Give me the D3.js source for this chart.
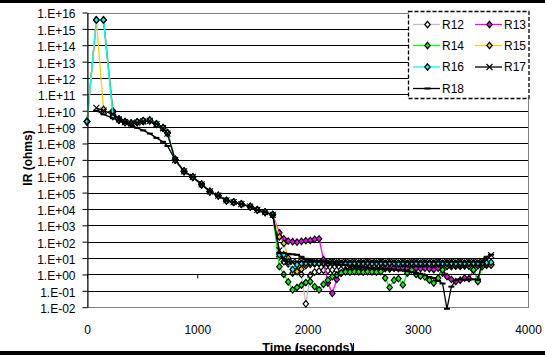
<!DOCTYPE html>
<html><head><meta charset="utf-8">
<script src="https://cdn.jsdelivr.net/npm/d3@7"></script>
<style>body{margin:0;background:#fff}svg{display:block}text{font-family:"Liberation Sans",Arial,sans-serif}</style>
</head><body><svg id="c" width="545" height="356"></svg>
<script>
// ---- data ----
const times = [0,85,150,235,290,345,400,455,510,570,630,690,730,800,880,960,1040,1115,1190,1265,1330,1400,1480,1545,1615,1685,
  1745,1785,1825,1865,1905,1945,1985,2025,2065,2105,
  2145,2185,2225,2265,2305,2345,2385,2425,2465,2505,
  2545,2585,2625,2665,2705,2745,2785,2825,2865,2905,
  2945,2985,3025,3065,3105,3145,3185,3225,3265,3305,
  3345,3385,3425,3465,3505,3545,3585,3625,3665];

const R12 = [2.2e9,3.5e15,3.5e15,1.0e10,3.0e9,2.1e9,1.7e9,2.0e9,2.3e9,2.5e9,1.6e9,9.0e8,4.5e8,1.1e7,2.1e6,9.0e5,3.3e5,1.2e5,6.8e4,3.3e4,2.7e4,2.0e4,1.45e4,9.0e3,6.5e3,4.5e3,
  12,6,4.5,3.5,2.5,1.0,0.016,0.9,1.4,1.6,
  1.8,1.7,1.9,1.8,2.0,1.9,2.1,2.0,1.9,2.1,
  2.0,2.2,2.0,2.1,2.3,2.2,2.4,2.3,2.5,2.4,
  2.6,2.5,2.7,2.6,2.8,2.7,3.0,2.9,3.1,3.0,
  3.2,3.1,3.3,3.2,3.4,3.3,3.5,3.6,3.8];
const R13 = [2.3e9,3.5e15,3.5e15,9.0e9,2.9e9,1.9e9,1.8e9,2.1e9,2.5e9,2.7e9,1.5e9,8.5e8,4.2e8,9.5e6,2.0e6,8.5e5,3.0e5,1.1e5,6.4e4,3.1e4,2.5e4,1.9e4,1.35e4,8.5e3,6.2e3,4.4e3,
  350,150,110,100,95,105,115,120,140,150,
  8,0.3,0.07,0.5,1.2,1.6,1.8,2.0,1.9,2.1,
  2.2,2.0,2.3,2.2,2.4,2.3,2.5,2.4,2.5,2.4,
  2.5,2.4,2.3,2.4,2.2,2.0,2.4,1.2,0.74,0.5,
  0.37,0.45,0.6,0.55,1.9,0.5,4.0,4.5,4.0];
const R14 = [2.1e9,3.4e15,3.4e15,8.0e9,2.6e9,2.0e9,1.6e9,1.9e9,2.4e9,2.6e9,1.45e9,8.8e8,4.4e8,1.0e7,1.9e6,9.2e5,3.2e5,1.15e5,6.6e4,3.2e4,2.6e4,2.1e4,1.4e4,8.8e3,6.4e3,4.3e3,
  3.0,1.0,0.35,0.115,0.16,0.22,0.32,0.37,0.18,0.115,
  0.25,0.45,0.74,0.93,1.2,1.45,1.4,1.5,1.45,1.4,
  1.5,1.45,1.4,1.5,0.6,0.16,0.45,0.55,0.23,1.2,
  1.9,1.0,0.8,0.7,0.45,0.3,0.6,1.9,3.2,3.4,
  3.3,3.5,3.4,3.3,1.9,0.37,3.0,4.0,4.2];
const R15 = [2.2e9,3.5e15,1.2e10,5.5e9,3.2e9,2.2e9,1.7e9,2.0e9,2.2e9,2.5e9,1.6e9,9.5e8,4.6e8,1.05e7,2.0e6,8.8e5,3.1e5,1.2e5,6.5e4,3.2e4,2.6e4,2.0e4,1.4e4,8.6e3,6.3e3,4.5e3,
  200,80,10,1.2,1.5,2.1,3.5,4.2,4.4,4.6,
  4.5,4.3,4.6,4.4,4.5,4.7,4.4,4.5,4.3,4.6,
  4.5,4.4,4.6,4.5,4.3,4.5,4.6,4.4,4.5,4.3,
  4.6,4.5,4.4,4.5,4.6,4.3,4.5,4.4,4.6,4.5,
  4.3,4.5,4.4,4.6,4.5,4.3,4.4,4.2,3.8];
const R16 = [2.2e9,3.5e15,3.5e15,4.4e9,2.8e9,1.9e9,1.65e9,2.0e9,2.4e9,2.6e9,1.5e9,9.0e8,4.3e8,1.0e7,2.0e6,8.9e5,3.2e5,1.15e5,6.6e4,3.2e4,2.6e4,2.0e4,1.4e4,8.7e3,6.3e3,4.4e3,
  16,16,6,2.0,4.0,4.8,5.0,5.3,5.1,4.9,
  5.2,5.0,5.3,5.1,4.9,5.2,5.0,5.3,5.1,5.0,
  5.2,4.9,5.1,5.3,5.0,5.2,5.1,4.9,5.2,5.0,
  5.3,5.1,5.0,5.2,4.9,5.1,5.3,5.0,5.2,5.1,
  4.9,5.2,5.0,5.3,5.1,5.0,5.2,5.4,5.5];
const R17 = [null,1.5e10,1.0e10,6.0e9,3.0e9,2.0e9,1.7e9,1.9e9,2.2e9,2.4e9,1.5e9,8.5e8,4.0e8,1.0e7,2.0e6,9.0e5,3.2e5,1.2e5,6.6e4,3.3e4,2.6e4,2.0e4,1.4e4,8.8e3,6.4e3,4.4e3,
  30,7,6.0,6.3,6.0,6.5,6.2,5.9,6.3,6.1,
  5.8,6.2,6.4,6.0,5.9,6.3,6.1,6.2,5.8,6.0,
  6.4,6.1,5.9,6.2,6.0,6.3,5.9,6.1,6.2,5.8,
  6.0,6.3,6.1,5.9,6.2,6.0,6.4,6.1,5.9,6.2,
  6.0,6.3,6.1,5.8,6.2,6.0,6.5,7.5,15];
const R18 = [null,1.0e10,6.0e9,3.5e9,2.5e9,1.8e9,1.26e9,9.0e8,6.3e8,4.0e8,2.2e8,1.26e8,7.0e7,1.0e7,2.0e6,8.8e5,3.1e5,1.15e5,6.5e4,3.2e4,2.6e4,2.0e4,1.4e4,8.7e3,6.3e3,4.4e3,
  20,20,18,17,16,12,9,7.5,6.5,6,
  5.5,5.0,4.6,4.3,4.0,3.7,3.4,3.2,3.0,2.8,
  2.6,2.4,2.3,2.2,2.15,2.1,2.05,1.9,1.75,1.6,
  1.4,1.25,1.1,0.9,0.7,0.6,0.4,0.28,0.008,0.18,
  0.45,0.5,0.48,0.5,0.5,0.47,6,12,16];

const seriesNames = ["R12","R13","R14","R15","R16","R17","R18"];
const seriesValues = [R12,R13,R14,R15,R16,R17,R18];
const xTicks = [0,1000,2000,3000,4000];
const yTickValues = [1e-2,1e-1,1e0,1e1,1e2,1e3,1e4,1e5,1e6,1e7,1e8,1e9,1e10,1e11,1e12,1e13,1e14,1e15,1e16];
const yTickLabels = ["1.E-02","1.E-01","1.E+00","1.E+01","1.E+02","1.E+03","1.E+04","1.E+05","1.E+06","1.E+07","1.E+08","1.E+09","1.E+10","1.E+11","1.E+12","1.E+13","1.E+14","1.E+15","1.E+16"];

// ---- styles ----
const styles = {
  R12:{color:"#c0c0c0", marker:"diamond", fill:"#ffffff"},
  R13:{color:"#ff00ff", marker:"diamond", fill:"#ff00ff"},
  R14:{color:"#00ff00", marker:"diamond", fill:"#00ff00"},
  R15:{color:"#ffcc00", marker:"diamond", fill:"#ffcc00"},
  R16:{color:"#00ffff", marker:"diamond", fill:"#00ffff"},
  R17:{color:"#000000", marker:"x"},
  R18:{color:"#000000", marker:"dash"}
};

const svg = d3.select("#c");
svg.append("rect").attr("width",545).attr("height",356).attr("fill","#fff");

const L=87, R=528, T=12.5, B=307.2;
const x = d3.scaleLinear().domain([0,4000]).range([L,R]);
const y = d3.scaleLog().domain([1e-2,1e16]).range([B,T]);

// gridlines
svg.append("g").selectAll("line").data(yTickValues.filter(v=>v>1e-2 && v<1e16)).join("line")
  .attr("x1",L).attr("x2",R).attr("y1",d=>Math.round(y(d))+0.5).attr("y2",d=>Math.round(y(d))+0.5)
  .attr("stroke","#000").attr("stroke-width",1);
// plot border
svg.append("rect").attr("x",L+0.5).attr("y",Math.round(T)+0.5).attr("width",R-L).attr("height",Math.round(B)-Math.round(T))
  .attr("fill","none").attr("stroke","#808080").attr("stroke-width",1);

function drawMarker(g, kind, st, cx, cy){
  if(kind==="diamond"){
    g.append("path").attr("d",`M${cx},${cy-3.2}L${cx+2.7},${cy}L${cx},${cy+3.2}L${cx-2.7},${cy}Z`)
      .attr("fill",st.fill).attr("stroke","#000").attr("stroke-width",1.2);
  } else if(kind==="x"){
    g.append("path").attr("d",`M${cx-3},${cy-3}L${cx+3},${cy+3}M${cx-3},${cy+3}L${cx+3},${cy-3}`)
      .attr("stroke","#000").attr("stroke-width",1.1).attr("fill","none");
  } else {
    g.append("path").attr("d",`M${cx-3},${cy}L${cx+3},${cy}`)
      .attr("stroke","#000").attr("stroke-width",2).attr("fill","none");
  }
}

// series
const line = d3.line().defined(d=>d[1]!=null).x(d=>x(d[0])).y(d=>y(d[1]));
seriesNames.forEach((name,i)=>{
  const st = styles[name];
  const pts = times.map((t,j)=>[t, seriesValues[i][j]]);
  const g = svg.append("g");
  g.append("path").attr("d",line(pts)).attr("fill","none").attr("stroke",st.color).attr("stroke-width",1.3);
  pts.filter(p=>p[1]!=null).forEach(p=>drawMarker(g, st.marker, st, x(p[0]), y(p[1])));
});

// y axis
const yAxis = d3.axisLeft(y).tickValues(yTickValues).tickFormat((d,i)=>yTickLabels[i]).tickSize(5).tickPadding(7).tickSizeOuter(0);
const gy = svg.append("g").attr("transform",`translate(${L+0.5},0)`).call(yAxis);
gy.select(".domain").attr("stroke","#000");
gy.selectAll(".tick line").attr("stroke","#000");
gy.selectAll("text").attr("font-size",12).attr("dy","0.45em").attr("fill","#000").style("font-family","'Liberation Sans',Arial,sans-serif");

// x axis at y = 1
const xAxis = d3.axisBottom(x).tickValues(xTicks).tickFormat("").tickSize(4).tickSizeOuter(0);
const gx = svg.append("g").attr("transform",`translate(0,${Math.round(y(1))+0.5})`).call(xAxis);
gx.select(".domain").attr("d",`M${L},0H${R+1}`).attr("stroke","#000");
gx.selectAll(".tick line").attr("stroke","#000");
// x labels at bottom
const xLab = d3.axisBottom(x).tickValues(xTicks).tickFormat(d3.format("d")).tickSize(0).tickPadding(17.8);
const gxl = svg.append("g").attr("transform",`translate(0,${B})`).call(xLab);
gxl.select(".domain").remove();
gxl.selectAll("text").attr("font-size",12).attr("fill","#000").style("font-family","'Liberation Sans',Arial,sans-serif");

// axis titles
svg.append("text").attr("transform","translate(28,158) rotate(-90)").attr("text-anchor","middle").attr("dy","0.35em")
  .attr("font-size",12).attr("font-weight","bold").text("IR (ohms)");
svg.append("text").attr("x",308).attr("y",352).attr("text-anchor","middle")
  .attr("font-size",12.5).attr("font-weight","bold").text("Time (seconds)");
svg.append("line").attr("x1",297.5).attr("x2",297.5).attr("y1",343).attr("y2",351).attr("stroke","#000");
svg.append("line").attr("x1",353.5).attr("x2",353.5).attr("y1",343).attr("y2",351).attr("stroke","#000");

// legend
const lg = svg.append("g");
lg.append("rect").attr("x",408.5).attr("y",11.5).attr("width",120.5).attr("height",87)
  .attr("fill","#fff").attr("stroke","#000").attr("stroke-width",1.3).attr("stroke-dasharray","4,2");
const rows=[24.5,45.5,67,88.5], cols=[413,475];
seriesNames.forEach((name,i)=>{
  const st=styles[name];
  const cy=rows[Math.floor(i/2)], x0=cols[i%2];
  lg.append("line").attr("x1",x0).attr("x2",x0+27).attr("y1",cy).attr("y2",cy).attr("stroke",st.color).attr("stroke-width",1.3);
  drawMarker(lg, st.marker, st, x0+14.5, cy);
  lg.append("text").attr("x",x0+29).attr("y",cy+4.3).attr("font-size",12).text(name);
});

// frame bars
svg.append("rect").attr("x",0).attr("y",0).attr("width",545).attr("height",3).attr("fill","#000");
svg.append("rect").attr("x",0).attr("y",351).attr("width",545).attr("height",4).attr("fill","#000");
</script></body></html>
